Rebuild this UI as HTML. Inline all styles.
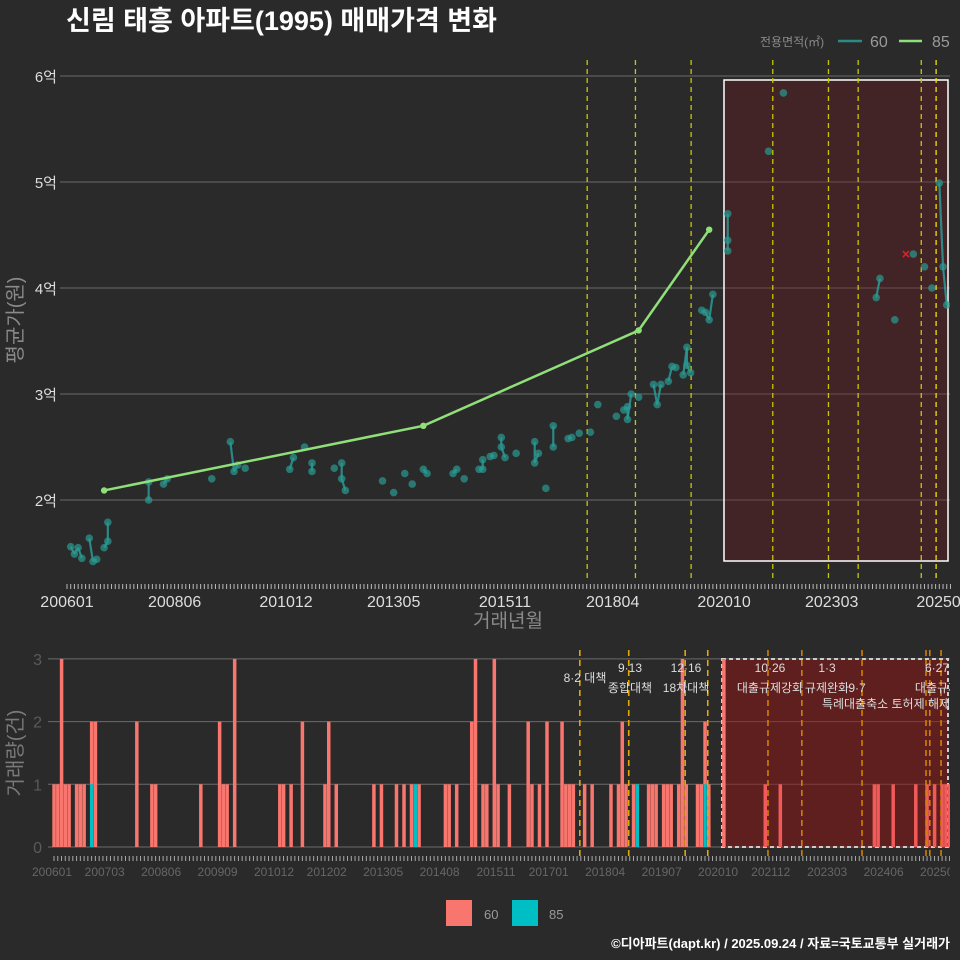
<!DOCTYPE html>
<html><head><meta charset="utf-8">
<style>
html,body{margin:0;padding:0;background:#2b2a2b;}
svg{display:block;font-family:"Liberation Sans","Noto Sans CJK KR",sans-serif;}
</style></head>
<body>
<svg id="c" width="960" height="960" viewBox="0 0 960 960" xmlns="http://www.w3.org/2000/svg">
<rect x="0" y="0" width="960" height="960" fill="#2b2a2b"/>
<defs>
<clipPath id="clipTop"><rect x="60" y="55" width="890" height="525"/></clipPath>
<clipPath id="clipBot"><rect x="0" y="640" width="950" height="250"/></clipPath>
</defs>
<text x="66" y="30" font-size="27" font-weight="bold" fill="#ffffff">신림 태흥 아파트(1995) 매매가격 변화</text>
<g>
<text x="760" y="46" font-size="12" fill="#8a8a8a">전용면적(㎡)</text>
<line x1="838" y1="41" x2="862" y2="41" stroke="#2a8a88" stroke-width="2.5"/>
<text x="870" y="47" font-size="16" fill="#9a9a9a">60</text>
<line x1="899" y1="41" x2="922" y2="41" stroke="#90e07a" stroke-width="2.5"/>
<text x="932" y="47" font-size="16" fill="#9a9a9a">85</text>
</g>
<g id="topPanel"></g>
<g id="botPanel"></g>
<g>
<rect x="446" y="900" width="26" height="26" fill="#f8766d"/>
<text x="484" y="919" font-size="13" fill="#9a9a9a">60</text>
<rect x="512" y="900" width="26" height="26" fill="#00bfc4"/>
<text x="549" y="919" font-size="13" fill="#9a9a9a">85</text>
</g>
<text x="950" y="948" font-size="13" font-weight="bold" fill="#ffffff" text-anchor="end">©디아파트(dapt.kr) / 2025.09.24 / 자료=국토교통부 실거래가</text>
</svg>
<script>
// month index: 0 = 2006-01
const months60 = [1,2,3,4,6,7,8,10,11,11,22,22,26,27,39,44,45,46,48,60,61,64,66,66,72,74,74,75,85,88,91,93,96,97,104,105,107,111,112,112,114,115,117,117,118,121,126,126,127,129,131,131,135,136,138,141,143,148,150,151,151,152,154,158,159,160,162,163,164,166,167,167,168,171,172,173,174,178,178,178,189,193,218,219,223,228,231,233,235,236,237];
const prices60 = [1.56,1.49,1.55,1.45,1.64,1.42,1.44,1.55,1.61,1.79,2.17,2.00,2.15,2.20,2.20,2.55,2.27,2.33,2.30,2.29,2.40,2.50,2.35,2.27,2.30,2.35,2.20,2.09,2.18,2.07,2.25,2.15,2.29,2.25,2.25,2.29,2.20,2.29,2.29,2.38,2.41,2.42,2.59,2.50,2.40,2.44,2.55,2.35,2.44,2.11,2.70,2.50,2.58,2.59,2.63,2.64,2.90,2.79,2.85,2.88,2.76,3.00,2.97,3.09,2.90,3.09,3.12,3.26,3.25,3.18,3.44,3.27,3.20,3.79,3.77,3.70,3.94,4.70,4.45,4.35,5.29,5.84,3.91,4.09,3.70,4.32,4.20,4.00,4.99,4.20,3.84];
const months85 = [10,96,154,173];
const prices85 = [2.09,2.70,3.60,4.55];
const markMonth = [226];
const markPrice = [4.32];
const barMonths60 = [0,1,2,3,4,6,7,8,10,11,22,26,27,39,44,45,46,48,60,61,63,66,72,73,75,85,87,91,93,95,97,104,105,107,111,112,114,115,117,118,121,126,127,129,131,135,136,137,138,141,143,148,150,151,152,154,158,159,160,162,163,164,166,167,168,171,172,173,174,178,189,193,218,219,223,229,232,234,236,237,238];
const barCounts60 = [1,1,3,1,1,1,1,1,1,2,2,1,1,1,2,1,1,3,1,1,1,2,1,2,1,1,1,1,1,1,1,1,1,1,2,3,1,1,3,1,1,2,1,1,2,2,1,1,1,1,1,1,1,2,1,1,1,1,1,1,1,1,1,3,1,1,1,1,1,3,1,1,1,1,1,1,1,1,1,1,1];
const barMonths85 = [10,96,155,173];
const barCounts85 = [1,1,1,1];
const topTicksVal = [2,3,4,5,6];
const topTickLabels = ['2억','3억','4억','5억','6억'];
const topXTickMonths = [0,29,59,88,118,147,177,206,236];
const topXTickLabels = ['200601','200806','201012','201305','201511','201804','202010','202303','202508'];
const botYTicks = [0,1,2,3];
const botXTickMonths = [0,14,29,44,59,73,88,103,118,132,147,162,177,191,206,221,236];
const botXTickLabels = ['200601','200703','200806','200909','201012','201202','201305','201408','201511','201701','201804','201907','202010','202112','202303','202406','202508'];
const policyMonthsTop = [140,153,168,190,205,213,230,234];
const policyMonthsBot = [140,153,168,174,190,199,215,232,233,236];

const NS='http://www.w3.org/2000/svg';
function mk(parent,tag,attrs,text){const e=document.createElementNS(NS,tag);for(const k in attrs)e.setAttribute(k,attrs[k]);if(text!==undefined)e.textContent=text;parent.appendChild(e);return e;}
const xT=m=>67+m*3.712;
const yT=v=>500-(v-2)*106;
const xB=m=>52+m*3.763;
const yB=v=>847-v*62.7;

const topG=document.getElementById('topPanel');
const botG=document.getElementById('botPanel');

topTicksVal.forEach((v,i)=>{
  const g=mk(topG,'line',{x1:60,x2:950,y1:yT(v),y2:yT(v),stroke:'#6a6a6a','stroke-width':1});
  
  
  const t=mk(topG,'text',{x:57,y:yT(v)+6,'font-size':15,fill:'#dddddd','text-anchor':'end'},topTickLabels[i]);
  
  
});
for(let m=0;m<=238;m++){
  const tk=mk(topG,'line',{x1:xT(m),x2:xT(m),y1:584,y2:589,stroke:'#bbbbbb','stroke-width':1});
  
  
}
topXTickMonths.forEach((m,i)=>{
  const t=mk(topG,'text',{x:xT(m),y:607,'font-size':16,fill:'#dddddd','text-anchor':'middle'},topXTickLabels[i]);
  
  
});
let at=mk(topG,'text',{x:508,y:627,'font-size':19,fill:'#8a8a8a','text-anchor':'middle'},'거래년월');


at=mk(topG,'text',{x:0,y:0,'font-size':20,fill:'#8a8a8a','text-anchor':'middle',transform:'translate(22,320) rotate(-90)'},'평균가(원)');



const tp=mk(topG,'g',{'clip-path':'url(#clipTop)'});
let sh=mk(tp,'rect',{x:724,y:80,width:224,height:481,fill:'rgba(110,25,30,0.35)',stroke:'#ffffff','stroke-width':1.5});


policyMonthsTop.forEach((m,i)=>{
  const l=mk(tp,'line',{x1:xT(m)+0.5,x2:xT(m)+0.5,y1:60,y2:580,stroke:i==policyMonthsTop.length-1?'#f0e000':'#c8c800','stroke-width':1.3,'stroke-dasharray':'5,4'});
  
  
});
for(let i=1;i<months60.length;i++){
  if(months60[i]-months60[i-1]<=1){
    const l=mk(tp,'line',{x1:xT(months60[i-1]),y1:yT(prices60[i-1]),x2:xT(months60[i]),y2:yT(prices60[i]),stroke:'#2a9a96','stroke-width':2.2,'stroke-opacity':0.85});
    
    
  }
}
months60.forEach((m,i)=>{
  const c=mk(tp,'circle',{cx:xT(m),cy:yT(prices60[i]),r:3.8,fill:'#2a9a92','fill-opacity':0.7});
  
  
});
const pl=mk(tp,'polyline',{points:months85.map((m,i)=>xT(m)+','+yT(prices85[i])).join(' '),fill:'none',stroke:'#90e07a','stroke-width':2.5});


months85.forEach((m,i)=>{
  const c=mk(tp,'circle',{cx:xT(m),cy:yT(prices85[i]),r:3.2,fill:'#90e07a'});
  
  
});
markMonth.forEach((m,i)=>{
  const x=xT(m),y=yT(markPrice[i]);
  const t=mk(tp,'path',{d:`M${x-3},${y-3}L${x+3},${y+3}M${x-3},${y+3}L${x+3},${y-3}`,stroke:'#e0202a','stroke-width':1.5});
  
  
});

botYTicks.forEach(v=>{
  const g=mk(botG,'line',{x1:48,x2:950,y1:yB(v),y2:yB(v),stroke:'#6a6a6a','stroke-width':1});
  
  
  const t=mk(botG,'text',{x:42,y:yB(v)+6,'font-size':16,fill:'#5a5a5a','text-anchor':'end'},String(v));
  
  
});
at=mk(botG,'text',{x:0,y:0,'font-size':20,fill:'#7a7a7a','text-anchor':'middle',transform:'translate(22,753) rotate(-90)'},'거래량(건)');


const bp=mk(botG,'g',{'clip-path':'url(#clipBot)'});
sh=mk(bp,'rect',{x:722,y:659,width:226,height:188,fill:'rgba(150,20,20,0.5)',stroke:'#cccccc','stroke-width':2,'stroke-dasharray':'4,3'});


barMonths60.forEach((m,i)=>{
  const k=barMonths85.indexOf(m);
  const b85=k>=0?barCounts85[k]:0;
  const r=mk(bp,'rect',{x:xB(m)+0.3,y:yB(b85+barCounts60[i]),width:3.5,height:barCounts60[i]*62.7,fill:xB(m)>722?'#f05a58':'#f8766d'});
  
  
});
barMonths85.forEach((m,i)=>{
  const r=mk(bp,'rect',{x:xB(m)+0.3,y:yB(barCounts85[i]),width:3.5,height:barCounts85[i]*62.7,fill:'#00bfc4'});
  
  
});
policyMonthsBot.forEach(m=>{
  const x=xB(m)+1;
  const l=mk(bp,'line',{x1:x,x2:x,y1:650,y2:858,stroke:x>722?'#d08000':'#e0a800','stroke-width':1.6,'stroke-dasharray':'6,4'});
  
  
});
const ann=[['8·2 대책',585,682],['9·13',630,672],['종합대책',630,692],['12·16',686,672],['18차대책',686,692],['10·26',770,672],['대출규제강화',770,692],['1·3',827,672],['규제완화',827,692],['9·7',857,692],['특례대출축소 토허제 해제',886,708],['6·27',937,672],['대출규제',937,692]];
ann.forEach(a=>{
  const t=mk(bp,'text',{x:a[1],y:a[2],'font-size':12,fill:'#dddddd','text-anchor':'middle'},a[0]);
  
  
});
for(let m=0;m<=238;m++){
  const tk=mk(bp,'line',{x1:xB(m)+2,x2:xB(m)+2,y1:856,y2:861,stroke:'#aaaaaa','stroke-width':1});
  
  
}
botXTickMonths.forEach((m,i)=>{
  const t=mk(bp,'text',{x:xB(m),y:876,'font-size':12,fill:'#666666','text-anchor':'middle'},botXTickLabels[i]);
  
  
});
</script>
</body></html>
